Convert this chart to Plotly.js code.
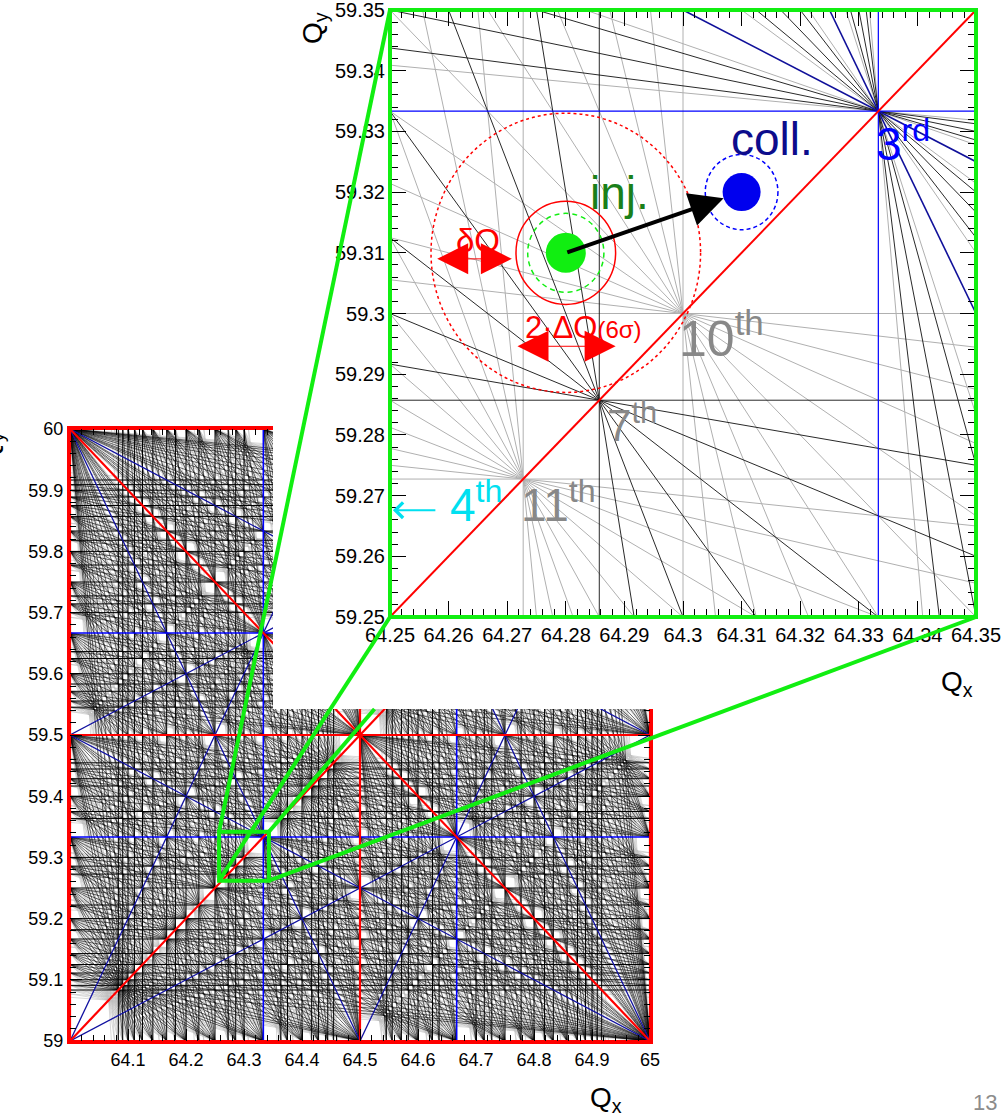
<!DOCTYPE html>
<html>
<head>
<meta charset="utf-8">
<script src="https://cdn.plot.ly/plotly-3.0.1.min.js"></script>
<style>
  html, body { margin: 0; padding: 0; background: #fff; }
  #chart { width: 1003px; height: 1117px; }
</style>
</head>
<body>
<div id="chart"></div>
<script>
// ---- Tune space ranges ----
const mainQx = [64, 65];
const mainQy = [59, 60];
const zoomQx = [64.25, 64.35];
const zoomQy = [59.25, 59.35];
const zoomBoxQx = [64.257, 64.343];
const zoomBoxQy = [59.262, 59.342];

// ---- Working points ----
const injTune = [64.28, 59.31];
const collTune = [64.31, 59.32];
const deltaQ = 0.013;        // δQ
const tuneSpread = 0.017;    // 2·ΔQ(6σ)
const envelopeRadius = 0.023;
const collRadius = 0.0062;

// ---- Resonance orders drawn in each panel ----
const mainLowOrders = [1, 2];
const mainThirdOrder = [3];
const mainBlackOrders = [4, 5, 6, 7, 8, 9, 10, 11, 12];
const mainGreyOrders = [13, 14, 15];

const zoomLowOrders = [1, 2];
const zoomThirdOrder = [3];
const zoomBlackOrders = [4, 5, 6, 7, 8, 9];
const zoomGreyOrders = [10, 11, 12];

// ---- Labels in the zoomed panel ----
const zoomLabels = [
  { text: 'coll.', q: [64.3152, 59.3287], color: '#0c0c8c', size: 46 },
  { text: 'inj.', q: [64.2891, 59.3198], color: '#1a801a', size: 46 },
  { text: '3<sup>rd</sup>', q: [64.3375, 59.3285], color: '#0000ff', size: 46 },
  { text: '10<sup>th</sup>', q: [64.3065, 59.2965], color: '#888888', size: 50 },
  { text: '7<sup>th</sup>', q: [64.2913, 59.2820], color: '#888888', size: 44 },
  { text: '11<sup>th</sup>', q: [64.2788, 59.2690], color: '#888888', size: 46 },
  { text: '4<sup>th</sup>', q: [64.2647, 59.2690], color: '#00e0f0', size: 46 },
  { text: 'δQ', q: [64.2650, 59.3120], color: '#ff0000', size: 33 },
  { text: '2·ΔQ<span style="font-size:24px">(6σ)</span>', q: [64.2830, 59.2977], color: '#ff0000', size: 31 }
];

const FONT = '"Liberation Sans", Arial, Helvetica, sans-serif';

// ---- Resonance line geometry: m*Qx + n*Qy = p clipped to a box ----
function gcd(a, b) { a = Math.abs(a); b = Math.abs(b); while (b) { const t = a % b; a = b; b = t; } return a; }

function clipLine(m, n, p, xr, yr) {
  const eps = 1e-9, pts = [];
  if (n !== 0) xr.forEach(x => { const y = (p - m * x) / n; if (y >= yr[0] - eps && y <= yr[1] + eps) pts.push([x, y]); });
  if (m !== 0) yr.forEach(y => { const x = (p - n * y) / m; if (x >= xr[0] - eps && x <= xr[1] + eps) pts.push([x, y]); });
  let best = null, d = 0;
  for (let i = 0; i < pts.length; i++) for (let j = i + 1; j < pts.length; j++) {
    const dd = Math.hypot(pts[i][0] - pts[j][0], pts[i][1] - pts[j][1]);
    if (dd > d) { d = dd; best = [pts[i], pts[j]]; }
  }
  return d > 1e-9 ? best : null;
}

// kind: 'all' | 'straight' | 'sloped'; withDiff adds difference resonances
function resonances(orders, withDiff, xr, yr, kind) {
  const xs = [], ys = [];
  orders.forEach(N => {
    const pairs = [];
    for (let m = 0; m <= N; m++) {
      pairs.push([m, N - m]);
      if (withDiff && m > 0 && m < N) pairs.push([m, -(N - m)]);
    }
    pairs.forEach(([m, n]) => {
      const straight = (m === 0 || n === 0);
      if (kind === 'straight' && !straight) return;
      if (kind === 'sloped' && straight) return;
      const c = [m * xr[0] + n * yr[0], m * xr[1] + n * yr[0], m * xr[0] + n * yr[1], m * xr[1] + n * yr[1]];
      const pmin = Math.min(...c), pmax = Math.max(...c);
      for (let p = Math.ceil(pmin - 1e-7); p <= pmax + 1e-7; p++) {
        if (gcd(gcd(m, n), p) > 1) continue;
        const seg = clipLine(m, n, p, xr, yr);
        if (seg) { xs.push(seg[0][0], seg[1][0], null); ys.push(seg[0][1], seg[1][1], null); }
      }
    });
  });
  return { x: xs, y: ys };
}

function lineTrace(r, color, width, xa, ya) {
  return { type: 'scatter', mode: 'lines', x: r.x, y: r.y, xaxis: xa, yaxis: ya,
    line: { color: color, width: width }, hoverinfo: 'skip', showlegend: false, connectgaps: false };
}

const traces = [];
// Full unit cell
traces.push(lineTrace(resonances(mainGreyOrders, false, mainQx, mainQy, 'sloped'), '#bdbdbd', 0.6, 'x', 'y'));
traces.push(lineTrace(resonances(mainBlackOrders, false, mainQx, mainQy, 'sloped'), '#000000', 0.6, 'x', 'y'));
traces.push(lineTrace(resonances(mainBlackOrders, false, mainQx, mainQy, 'straight'), '#000000', 1, 'x', 'y'));
traces.push(lineTrace(resonances(mainThirdOrder, true, mainQx, mainQy, 'sloped'), '#1010a0', 1.3, 'x', 'y'));
traces.push(lineTrace(resonances(mainThirdOrder, true, mainQx, mainQy, 'straight'), '#0000ff', 1.6, 'x', 'y'));
traces.push(lineTrace(resonances(mainLowOrders, true, mainQx, mainQy, 'all'), '#ff0000', 2.2, 'x', 'y'));
// Blank pad behind the zoomed panel
traces.push({ type: 'scatter', mode: 'lines', x: [null], y: [null], xaxis: 'x2', yaxis: 'y2', hoverinfo: 'skip', showlegend: false });
// Zoomed panel
traces.push(lineTrace(resonances(zoomGreyOrders, false, zoomQx, zoomQy, 'all'), '#b0b0b0', 1, 'x3', 'y3'));
traces.push(lineTrace(resonances(zoomBlackOrders, false, zoomQx, zoomQy, 'all'), '#111111', 0.9, 'x3', 'y3'));
traces.push(lineTrace(resonances(zoomThirdOrder, true, zoomQx, zoomQy, 'sloped'), '#10109a', 1.6, 'x3', 'y3'));
traces.push(lineTrace(resonances(zoomThirdOrder, true, zoomQx, zoomQy, 'straight'), '#0000ff', 1.2, 'x3', 'y3'));
traces.push(lineTrace(resonances(zoomLowOrders, true, zoomQx, zoomQy, 'all'), '#ff0000', 2, 'x3', 'y3'));
// Working points
traces.push({ type: 'scatter', mode: 'markers', x: [injTune[0]], y: [injTune[1]], xaxis: 'x3', yaxis: 'y3',
  marker: { color: '#11ee11', size: 40 }, hoverinfo: 'skip', showlegend: false });
traces.push({ type: 'scatter', mode: 'markers', x: [collTune[0]], y: [collTune[1]], xaxis: 'x3', yaxis: 'y3',
  marker: { color: '#0000ee', size: 38 }, hoverinfo: 'skip', showlegend: false });

// ---- Panel placement (pixels of the 1003 x 1117 page) ----
const W = 1003, H = 1117;
const mainDomX = [70 / W, 650 / W];
const mainDomY = [1 - 1041 / H, 1 - 429 / H];
const padDomX = [273 / W, 1];
const padDomY = [1 - 709 / H, 1];
const zoomDomX = [390 / W, 976 / W];
const zoomDomY = [1 - 617 / H, 1 - 10 / H];

const GREEN = '#11ee11';

function toPaper(q, range, dom) { return dom[0] + (q - range[0]) / (range[1] - range[0]) * (dom[1] - dom[0]); }
const boxP = {
  x0: toPaper(zoomBoxQx[0], mainQx, mainDomX), x1: toPaper(zoomBoxQx[1], mainQx, mainDomX),
  y0: toPaper(zoomBoxQy[0], mainQy, mainDomY), y1: toPaper(zoomBoxQy[1], mainQy, mainDomY)
};
// Top-right connector is hidden behind the pad; keep only the part below it
const trT = (padDomY[0] - zoomDomY[1]) / (boxP.y1 - zoomDomY[1]);
const trStartX = zoomDomX[1] + trT * (boxP.x1 - zoomDomX[1]);

function connector(xa, ya, xb, yb) {
  return { type: 'line', xref: 'paper', yref: 'paper', x0: xa, y0: ya, x1: xb, y1: yb, layer: 'above',
    line: { color: GREEN, width: 4 } };
}
function circle(c, r, color, dash) {
  return { type: 'circle', xref: 'x3', yref: 'y3', x0: c[0] - r, x1: c[0] + r, y0: c[1] - r, y1: c[1] + r,
    layer: 'above', line: { color: color, width: 1.5, dash: dash } };
}

const shapes = [
  circle(injTune, envelopeRadius, '#ff0000', '3px,3px'),
  circle(injTune, tuneSpread / 2, '#ff0000', 'solid'),
  circle(injTune, deltaQ / 2, GREEN, '5px,4px'),
  circle(collTune, collRadius, '#0000ff', '4px,3px'),
  { type: 'rect', xref: 'x3 domain', yref: 'y3 domain', x0: 0, x1: 1, y0: 0, y1: 1, layer: 'above', line: { color: GREEN, width: 4 } },
  { type: 'rect', xref: 'x', yref: 'y', x0: zoomBoxQx[0], x1: zoomBoxQx[1], y0: zoomBoxQy[0], y1: zoomBoxQy[1], layer: 'above', line: { color: GREEN, width: 4 } },
  connector(zoomDomX[0], zoomDomY[1], boxP.x0, boxP.y1),
  connector(zoomDomX[0], zoomDomY[0], boxP.x0, boxP.y0),
  connector(zoomDomX[1], zoomDomY[0], boxP.x1, boxP.y0),
  connector(trStartX, padDomY[0], boxP.x1, boxP.y1)
];

const annotations = zoomLabels.map(l => ({
  xref: 'x3', yref: 'y3', x: l.q[0], y: l.q[1], text: l.text, showarrow: false,
  xanchor: 'center', yanchor: 'middle', font: { family: FONT, size: l.size, color: l.color }
}));

// Arrow from injection to collision tune
annotations.push({ xref: 'x3', yref: 'y3', x: collTune[0], y: collTune[1], axref: 'x3', ayref: 'y3',
  ax: injTune[0], ay: injTune[1], text: '', showarrow: true, arrowhead: 2, arrowsize: 1.7, arrowwidth: 4,
  arrowcolor: '#000000', standoff: 19, startstandoff: 0 });
// δQ span
const dqCentre = 64.2643, dqY = 59.3090;
annotations.push({ xref: 'x3', yref: 'y3', x: dqCentre + deltaQ / 2, y: dqY, axref: 'x3', ayref: 'y3',
  ax: dqCentre - deltaQ / 2, ay: dqY, text: '', showarrow: true, arrowside: 'end+start',
  arrowhead: 2, startarrowhead: 2, arrowsize: 6.2, startarrowsize: 6.2, arrowwidth: 1, arrowcolor: '#ff0000' });
// 2·ΔQ span
const spreadY = 59.2946;
annotations.push({ xref: 'x3', yref: 'y3', x: injTune[0] + tuneSpread / 2, y: spreadY, axref: 'x3', ayref: 'y3',
  ax: injTune[0] - tuneSpread / 2, ay: spreadY, text: '', showarrow: true, arrowside: 'end+start',
  arrowhead: 2, startarrowhead: 2, arrowsize: 6.2, startarrowsize: 6.2, arrowwidth: 1, arrowcolor: '#ff0000' });
// pointer towards the 4th order node
annotations.push({ xref: 'x3', yref: 'y3', x: 64.2505, y: 59.2676, axref: 'x3', ayref: 'y3',
  ax: 64.2580, ay: 59.2676, text: '', showarrow: true, arrowhead: 4, arrowsize: 1.5, arrowwidth: 2, arrowcolor: '#00e0f0' });

// Axis titles and page number
function paperText(px, py, text, size, color, angle) {
  return { xref: 'paper', yref: 'paper', x: px / W, y: 1 - py / H, xanchor: 'center', yanchor: 'middle',
    text: text, textangle: angle || 0, showarrow: false, font: { family: FONT, size: size, color: color } };
}
annotations.push(
  paperText(606, 1099, 'Q<sub>x</sub>', 28, '#000'),
  paperText(957, 683, 'Q<sub>x</sub>', 28, '#000'),
  paperText(314, 28, 'Q<sub>y</sub>', 28, '#000', -90),
  paperText(-10, 448, 'Q<sub>y</sub>', 28, '#000', -90),
  paperText(985, 1102, '13', 22, '#8c8c8c')
);

function axisStyle(extra) {
  return Object.assign({
    showgrid: false, zeroline: false, showline: true, mirror: 'ticks', ticks: 'inside',
    tickcolor: '#000', tickwidth: 1, fixedrange: true, ticklabeloverflow: 'allow',
    tickfont: { family: FONT, size: 18, color: '#000' }
  }, extra);
}

const edge = 1e-9;
const layout = {
  width: W, height: H, autosize: false,
  margin: { l: 0, r: 0, t: 0, b: 0, pad: 0 },
  paper_bgcolor: '#ffffff', plot_bgcolor: '#ffffff',
  showlegend: false,
  xaxis: axisStyle({ domain: mainDomX, range: [mainQx[0], mainQx[1] + edge], anchor: 'y', linecolor: '#ff0000', linewidth: 3,
    tick0: 64, dtick: 0.1, ticklen: 12, labelalias: { '64': '' },
    minor: { ticks: 'inside', ticklen: 6, tick0: 64, dtick: 0.02, tickcolor: '#000' } }),
  yaxis: axisStyle({ domain: mainDomY, range: [mainQy[0], mainQy[1] + edge], anchor: 'x', linecolor: '#ff0000', linewidth: 3,
    tick0: 59, dtick: 0.1, ticklen: 12,
    minor: { ticks: 'inside', ticklen: 6, tick0: 59, dtick: 0.02, tickcolor: '#000' } }),
  xaxis2: { domain: padDomX, range: [0, 1], anchor: 'y2', visible: false, fixedrange: true },
  yaxis2: { domain: padDomY, range: [0, 1], anchor: 'x2', visible: false, fixedrange: true },
  xaxis3: axisStyle({ domain: zoomDomX, range: [zoomQx[0], zoomQx[1] + edge], anchor: 'y3', linecolor: '#000', linewidth: 1,
    tick0: 64.25, dtick: 0.01, ticklen: 16, tickfont: { family: FONT, size: 20, color: '#000' },
    minor: { ticks: 'inside', ticklen: 8, tick0: 64.25, dtick: 0.002, tickcolor: '#000' } }),
  yaxis3: axisStyle({ domain: zoomDomY, range: [zoomQy[0], zoomQy[1] + edge], anchor: 'x3', linecolor: '#000', linewidth: 1,
    tick0: 59.25, dtick: 0.01, ticklen: 16, tickfont: { family: FONT, size: 20, color: '#000' },
    minor: { ticks: 'inside', ticklen: 8, tick0: 59.25, dtick: 0.002, tickcolor: '#000' } }),
  shapes: shapes,
  annotations: annotations
};

Plotly.newPlot('chart', traces, layout, { staticPlot: true, displayModeBar: false });
</script>
</body>
</html>
